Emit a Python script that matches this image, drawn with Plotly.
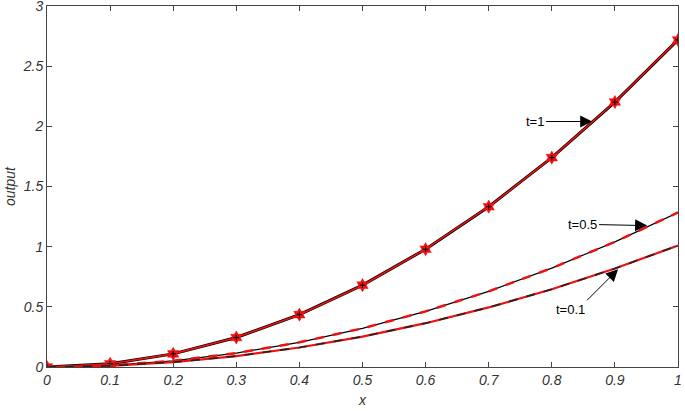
#!/usr/bin/env python3
"""
Output curves for t = 1, 0.5, 0.1 (exact vs approximate)
"""

import plotly.graph_objects as go

# data
x_vals = [0, 0.1, 0.2, 0.3, 0.4, 0.5, 0.6, 0.7, 0.8, 0.9, 1.0]
out_t1 = [0, 0.027, 0.109, 0.245, 0.435, 0.680, 0.979, 1.332, 1.740, 2.202, 2.718]
out_t05 = [0, 0.013, 0.051, 0.116, 0.205, 0.321, 0.462, 0.629, 0.822, 1.040, 1.284]
out_t01 = [0, 0.010, 0.040, 0.091, 0.162, 0.253, 0.364, 0.495, 0.646, 0.818, 1.010]
x_ticks = [0, 0.1, 0.2, 0.3, 0.4, 0.5, 0.6, 0.7, 0.8, 0.9, 1]
y_ticks = [0, 0.5, 1, 1.5, 2, 2.5, 3]

fig = go.Figure()

# t = 1 : black exact, red approximate with stars
fig.add_trace(go.Scatter(x=x_vals, y=out_t1, mode='lines',
                         line=dict(color='black', width=3), showlegend=False))
fig.add_trace(go.Scatter(x=x_vals, y=out_t1, mode='lines+markers',
                         line=dict(color='#ee1111', width=1.6),
                         marker=dict(symbol='hexagram', size=10, color='#ee1111',
                                     line=dict(color='#ee1111', width=0.5)),
                         showlegend=False))
fig.add_trace(go.Scatter(x=x_vals, y=out_t1, mode='markers',
                         marker=dict(symbol='cross-thin', size=4,
                                     line=dict(color='black', width=1)),
                         showlegend=False))

# t = 0.5 : black solid, red dashed
fig.add_trace(go.Scatter(x=x_vals, y=out_t05, mode='lines',
                         line=dict(color='black', width=1.2), showlegend=False))
fig.add_trace(go.Scatter(x=x_vals, y=out_t05, mode='lines',
                         line=dict(color='#ee1111', width=2.5, dash='dash'),
                         showlegend=False))

# t = 0.1 : red solid, black dashed
fig.add_trace(go.Scatter(x=x_vals, y=out_t01, mode='lines',
                         line=dict(color='#ee1111', width=2.2), showlegend=False))
fig.add_trace(go.Scatter(x=x_vals, y=out_t01, mode='lines',
                         line=dict(color='#222222', width=1.6, dash='dash'),
                         showlegend=False))

# arrows with labels
arrow_style = dict(showarrow=True, arrowhead=2, arrowsize=2.4, arrowwidth=1,
                   arrowcolor='black', xref='x', yref='y', axref='pixel', ayref='pixel',
                   font=dict(family='Liberation Sans, Arial', size=13, color='black'))
fig.add_annotation(x=0.864, y=2.04, text='t=1', ax=-46, ay=0, xanchor='right', **arrow_style)
fig.add_annotation(x=0.951, y=1.175, text='t=0.5', ax=-48, ay=-1, xanchor='right', **arrow_style)
fig.add_annotation(x=0.905, y=0.812, text='t=0.1', ax=-31, ay=31,
                   xanchor='right', yanchor='top', **arrow_style)

axis_common = dict(showgrid=False, zeroline=False, showline=True, linecolor='#444444',
                   linewidth=1, mirror='ticks', ticks='inside', ticklen=5,
                   tickcolor='#444444', ticklabeloverflow='allow', automargin=False,
                   tickfont=dict(family='Liberation Sans, Arial', size=14, color='#333333', style='italic'))

fig.update_layout(
    width=685, height=411,
    margin=dict(l=47, r=7, t=6, b=44),
    plot_bgcolor='white', paper_bgcolor='white',
    xaxis=dict(range=[0, 1], tickvals=x_ticks, ticktext=[str(v) for v in x_ticks],
               title=dict(text='x', standoff=8,
                          font=dict(family='Liberation Sans, Arial', size=14, color='#333333', style='italic')),
               **axis_common),
    yaxis=dict(range=[0, 3], tickvals=y_ticks, ticktext=[str(v) for v in y_ticks],
               title=dict(text='output', standoff=3,
                          font=dict(family='Liberation Sans, Arial', size=14, color='#333333', style='italic')),
               **axis_common),
)

# drop the default page margin so the figure sits at the window corner
fig.write_html("out.html", config={'displayModeBar': False},
               post_script="document.body.style.margin='0';")
print("OK: chart saved to out.html")
